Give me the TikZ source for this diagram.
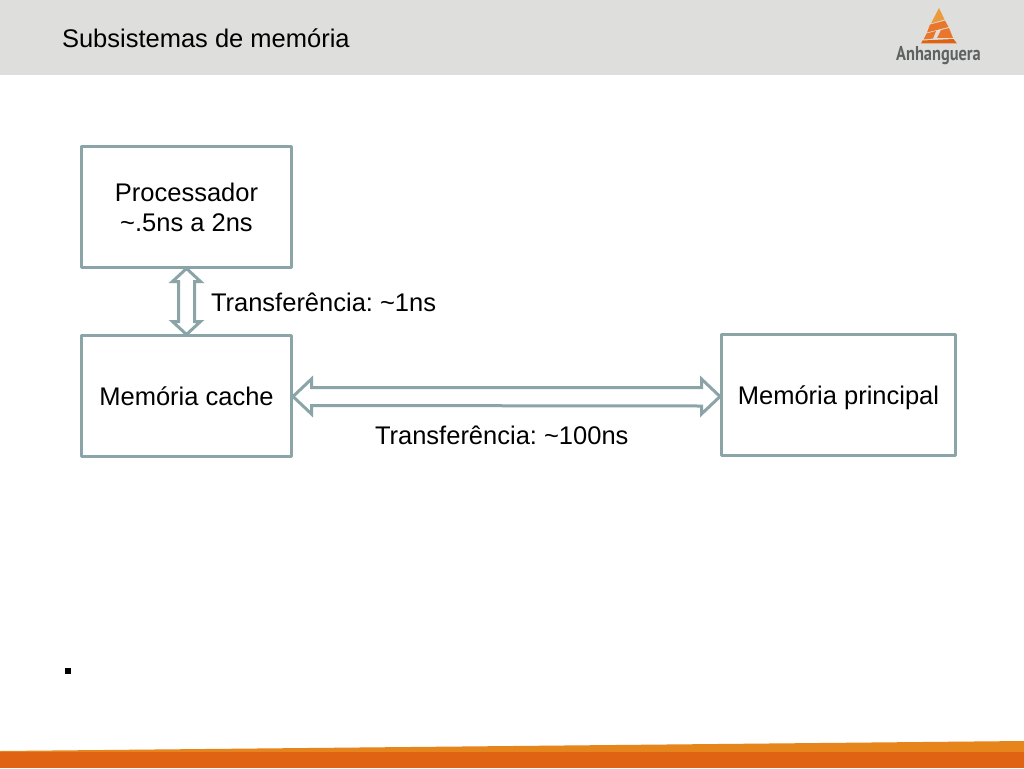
\documentclass[tikz,border=0pt]{standalone}
\usepackage{fontspec}
\setmainfont{Liberation Sans}
\newfontfamily\logofont{PT Sans}
\usetikzlibrary{calc}
\definecolor{hdr}{HTML}{DEDFDC}
\definecolor{edge}{HTML}{8BA4A8}
\definecolor{orgA}{HTML}{E06314}
\definecolor{orgB}{HTML}{E5851B}
\definecolor{orgC}{HTML}{EC9A3E}
\definecolor{orgD}{HTML}{E9762A}
\definecolor{logotxt}{HTML}{5F6163}
\tikzset{
  x=1pt,y=-1pt,
  every node/.style={inner sep=0pt,outer sep=0pt,text=black,font=\fontsize{25.5}{30}\selectfont\frenchspacing},
  blockbox/.style={draw=edge,line width=2.6pt,fill=white,align=center,line join=round},
  singleline/.style={text height=19pt,text depth=0pt},
  blockarrow/.style={draw=edge,line width=3pt,fill=white,line join=miter,miter limit=3},
  caption/.style={anchor=base west},
}
\begin{document}
\begin{tikzpicture}
\useasboundingbox (0,0) rectangle (1024,768);
\fill[white] (0,0) rectangle (1024,768);
% header
\fill[hdr] (0,0) rectangle (1024,75);
\node[caption] (title) at (62,47.5) {Subsistemas de memória};
% logo
\fill[orgC] (939,8) -- (944.5,19.5) -- (931,23.5) -- cycle;
\fill[orgD] (930,24.6) -- (945,20.6) -- (948.5,27) -- (927,32.5) -- cycle;
\fill[orgD] (926.5,33.5) -- (936,31) -- (933,38.5) -- (923.5,39.5) -- cycle;
\fill[orgD] (941,30) -- (949,28) -- (953,38) -- (937,38) -- cycle;
\fill[orgA] (922.5,40.5) -- (953.5,39) -- (957,43.5) -- (921,43.5) -- cycle;
\node[anchor=base,text=logotxt,font=\logofont\bfseries\fontsize{20}{20}\selectfont,xscale=0.82] (logo) at (938.5,60) {Anhanguera};
% footer
\fill[orgB] (0,751) -- (1024,741) -- (1024,753) -- (0,753) -- cycle;
\fill[orgA] (0,752) rectangle (1024,768);
% boxes
\node[blockbox,minimum width=210pt,minimum height=121pt] (proc) at (186.5,207) {Processador\\\textasciitilde.5ns a 2ns};
\node[blockbox,singleline,minimum width=210pt,minimum height=121pt] (cache) at (186.5,396) {Memória cache};
\node[blockbox,singleline,minimum width=234pt,minimum height=121pt] (main) at (838.5,395) {Memória principal};
% arrows
\draw[blockarrow] ($(proc.south)+(0,1)$)
  -- ++(14,13) -- ++(-6,0) -- ($(cache.north)+(8,-14)$) -- ++(6,0) -- ($(cache.north)+(0,-1)$)
  -- ++(-14,-13) -- ++(6,0) -- ($(proc.south)+(-8,14)$) -- ++(-6,0) -- cycle;
\coordinate (lt) at (cache.east);
\coordinate (rt) at (main.west);
\draw[blockarrow] ($(lt)+(1.5,0.5)$)
  -- ++(18.5,-17.5) -- ++(0,8.5) -- ($(rt)+(-20,-7.5)$) -- ++(0,-8.5) -- ($(rt)+(-1.5,1.5)$)
  -- ++(-18.5,17.5) -- ++(0,-8) -- ($(lt)+(20,9.5)$) -- ++(0,8.5) -- cycle;
% labels
\node[caption] (l1) at (211,311) {Transferência: \textasciitilde1ns};
\node[caption] (l2) at (375,444) {Transferência: \textasciitilde100ns};
\node[anchor=center,fill=black,minimum width=6pt,minimum height=6pt] (dot) at (68,671) {};
\end{tikzpicture}
\end{document}
